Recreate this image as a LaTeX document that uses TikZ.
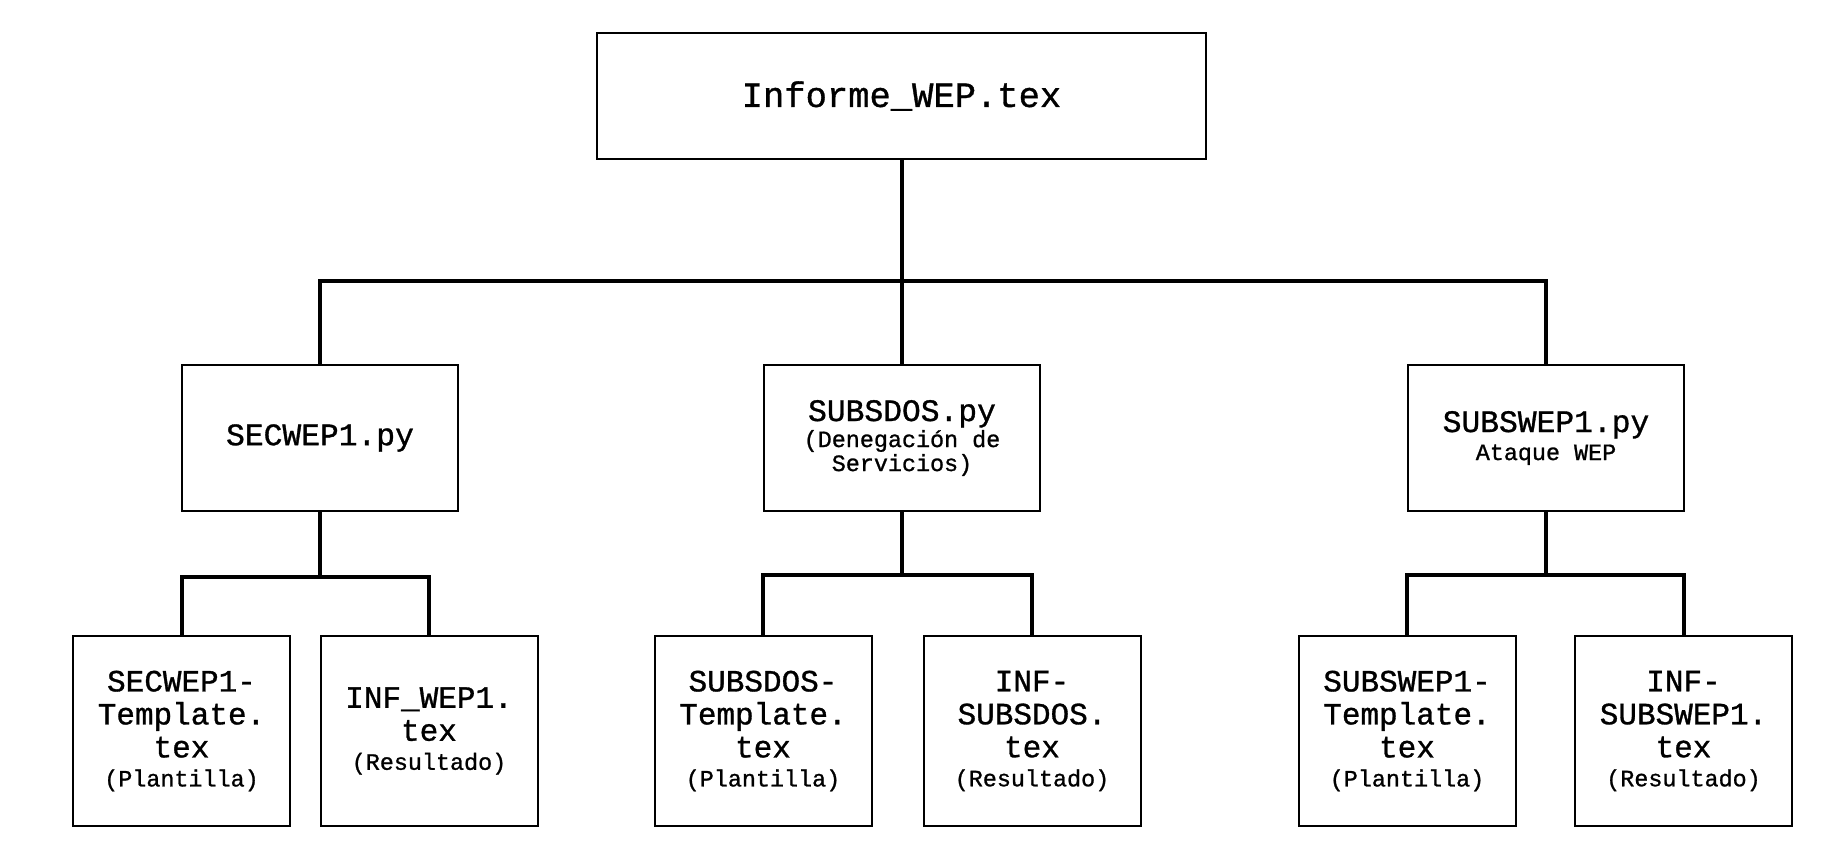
\documentclass[tikz,border=0pt]{standalone}
\usepackage{fontspec}
\newfontfamily\cour[FakeBold=1]{Liberation Mono}
\newcommand\fTop{\cour\fontsize{35.5}{40}\selectfont}
\newcommand\fMid{\cour\fontsize{31.3}{34}\selectfont}
\newcommand\fBig{\cour\fontsize{31}{33}\selectfont}
\newcommand\fSm{\cour\fontsize{23.4}{25}\selectfont}
\tikzset{
  box/.style={draw=black, line width=2pt, inner sep=0pt, align=center},
  topbox/.style={box, minimum width=609pt, minimum height=126pt, font=\fTop},
  midbox/.style={box, minimum width=276pt, minimum height=146pt, font=\fMid},
  leafbox/.style={box, minimum width=217pt, minimum height=190pt, font=\fBig},
  conn/.style={draw=black, line width=4pt, line cap=rect}
}
\begin{document}
\begin{tikzpicture}[x=1pt, y=-1pt]
\useasboundingbox (0,0) rectangle (1842,850);
% top
\node[topbox] (top) at (901.5,96) {Informe\_WEP.tex};
% middle
\node[midbox] (m1) at (320,438) {SECWEP1.py};
\node[midbox] (m2) at (902,438) {SUBSDOS.py\\[-8pt]{\fSm (Denegación de}\\[-10pt]{\fSm Servicios)}};
\node[midbox] (m3) at (1546,438) {SUBSWEP1.py\\[-6pt]{\fSm Ataque WEP}};
% leaves
\node[leafbox] (l1) at (181.5,731) {SECWEP1-\\Template.\\tex\\[-4pt]{\fSm (Plantilla)}};
\node[leafbox] (l2) at (429,731) {INF\_WEP1.\\tex\\[-4pt]{\fSm (Resultado)}};
\node[leafbox] (l3) at (763,731) {SUBSDOS-\\Template.\\tex\\[-4pt]{\fSm (Plantilla)}};
\node[leafbox] (l4) at (1032,731) {INF-\\SUBSDOS.\\tex\\[-4pt]{\fSm (Resultado)}};
\node[leafbox] (l5) at (1407,731) {SUBSWEP1-\\Template.\\tex\\[-4pt]{\fSm (Plantilla)}};
\node[leafbox] (l6) at (1683.5,731) {INF-\\SUBSWEP1.\\tex\\[-4pt]{\fSm (Resultado)}};
% bar levels
\coordinate (b0) at (900,281);
\coordinate (b1) at (320,577);
\coordinate (b2) at (902,575);
\coordinate (b3) at (1546,575);
% connectors top -> middle
\draw[conn] (top.south) -- (top.south |- b0);
\draw[conn] (m1.north) -- (m1.north |- b0) -- (m3.north |- b0) -- (m3.north);
\draw[conn] (m2.north) -- (m2.north |- b0);
% middle -> leaves
\draw[conn] (m1.south) -- (b1);
\draw[conn] (l1.north) -- (l1.north |- b1) -- (l2.north |- b1) -- (l2.north);
\draw[conn] (m2.south) -- (b2);
\draw[conn] (l3.north) -- (l3.north |- b2) -- (l4.north |- b2) -- (l4.north);
\draw[conn] (m3.south) -- (b3);
\draw[conn] (l5.north) -- (l5.north |- b3) -- (l6.north |- b3) -- (l6.north);
\end{tikzpicture}
\end{document}
